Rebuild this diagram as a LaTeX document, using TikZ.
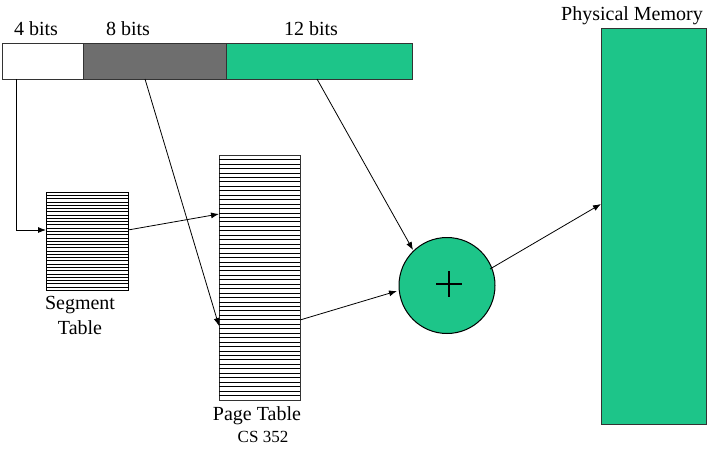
\documentclass[tikz,border=0pt]{standalone}
\usepackage{fontspec}
\setmainfont{Liberation Serif}
\usetikzlibrary{arrows.meta}
\definecolor{memgreen}{RGB}{29,197,137}
\definecolor{bargray}{RGB}{110,110,110}
\begin{document}
\begin{tikzpicture}[x=1pt,y=-1pt,
  box/.style={draw=black!80,line width=1pt},
  conn/.style={draw=black,line width=0.8pt,-{Latex[length=8pt,width=6pt]}},
  lbl/.style={font=\fontsize{20}{22}\selectfont,inner sep=0pt},
  small/.style={font=\fontsize{17}{19}\selectfont,inner sep=0pt}]
\useasboundingbox (0,0) rectangle (709,453);
% address bar
\path[box,fill=white] (2,43) rectangle (83,79);
\path[box,fill=bargray] (83,43) rectangle (226,79);
\path[box,fill=memgreen] (226,43) rectangle (412,79);
\coordinate (segf) at (16,79);
\coordinate (pagef) at (145,79);
\coordinate (offf) at (317,79);
\node[lbl] (l4) at (36,29) {4 bits};
\node[lbl] (l8) at (128,29) {8 bits};
\node[lbl] (l12) at (311,29) {12 bits};
% segment table
\node[draw=black,line width=0.8pt,minimum width=82pt,minimum height=98pt,inner sep=0pt] (seg) at (87,241) {};
\foreach \i in {1,...,29} \draw[line width=0.5pt] (46,192+\i*3.27) -- (128,192+\i*3.27);
\coordinate (segin) at (46,230);
\coordinate (segout) at (128,230);
\node[lbl] (segl1) at (80,305) {Segment};
\node[lbl] (segl2) at (80,328) {Table};
% page table
\node[draw=black!80,line width=1pt,minimum width=81pt,minimum height=245pt,inner sep=0pt] (pt) at (259.5,277.5) {};
\foreach \i in {1,...,54} \draw[line width=0.6pt] (219,155+\i*4.45) -- (300,155+\i*4.45);
\coordinate (ptin1) at (219,214);
\coordinate (ptin2) at (219,326);
\coordinate (ptout) at (300,320);
\node[lbl] (ptl) at (257,416) {Page Table};
\node[small] (cs) at (263,437) {CS 352};
% adder
\node[circle,draw=black,line width=1pt,fill=memgreen,minimum size=96pt,inner sep=0pt] (add) at (447,285.5) {};
\draw[line width=1.6pt] (436,284) -- (462,284) (449,271) -- (449,297);
\coordinate (addin1) at (397,291);
\coordinate (addin2) at (413,250);
\coordinate (addout) at (490,269);
% physical memory
\node[draw=black!80,line width=1pt,fill=memgreen,minimum width=105pt,minimum height=396pt,inner sep=0pt] (pm) at (653.5,226) {};
\coordinate (pmin) at (601,204);
\node[lbl] (pml) at (632,16) {Physical Memory};
% connectors
\draw[conn] (segf) |- (segin);
\draw[conn] (segout) -- (ptin1);
\draw[conn] (pagef) -- (ptin2);
\draw[conn] (ptout) -- (addin1);
\draw[conn] (offf) -- (addin2);
\draw[conn] (addout) -- (pmin);
\end{tikzpicture}
\end{document}
